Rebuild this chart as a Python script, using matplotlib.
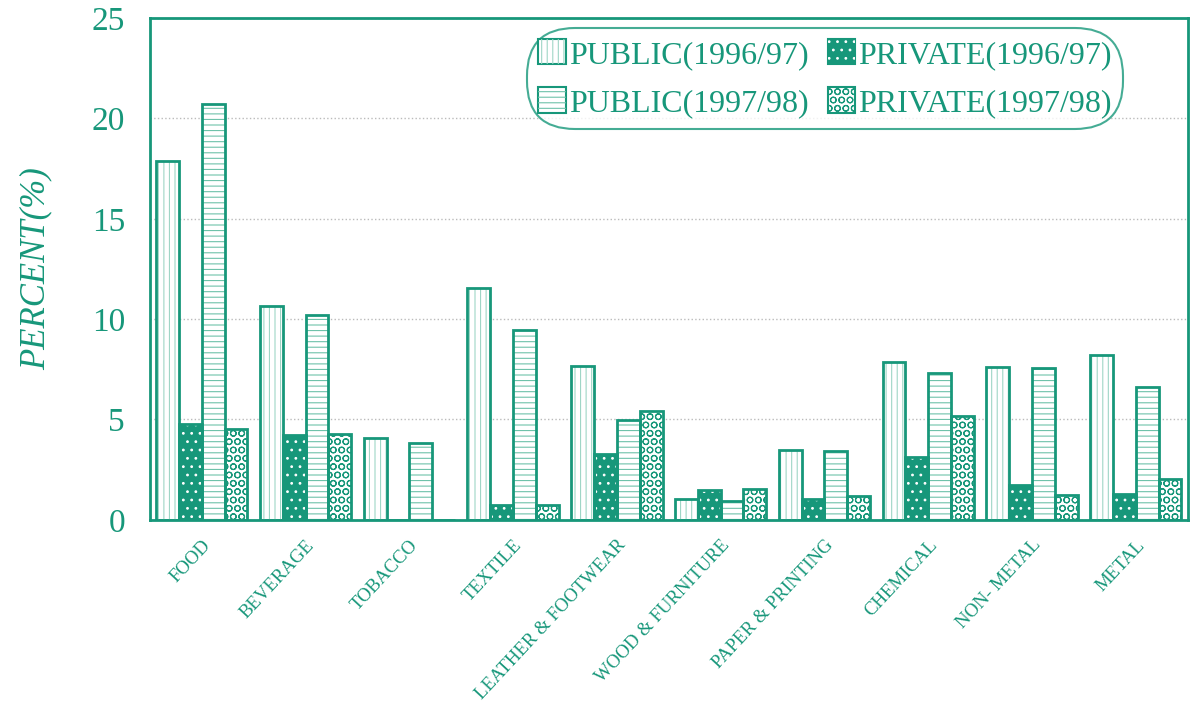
import matplotlib.pyplot as plt
import numpy as np
from matplotlib.patches import Patch
from matplotlib.legend_handler import HandlerTuple

# 数据
categories = ['FOOD', 'BEVERAGE', 'TOBACCO', 'TEXTILE', 'LEATHER & FOOTWEAR',
              'WOOD & FURNITURE', 'PAPER & PRINTING', 'CHEMICAL', 'NON- METAL', 'METAL']
public_9697 = [17.9, 10.65, 4.1, 11.55, 7.65, 1.05, 3.5, 7.85, 7.6, 8.2]
private_9697 = [4.75, 4.25, 0.0, 0.75, 3.3, 1.5, 1.05, 3.15, 1.75, 1.3]
public_9798 = [20.7, 10.2, 3.85, 9.45, 4.95, 0.95, 3.45, 7.3, 7.55, 6.6]
private_9798 = [4.55, 4.3, 0.0, 0.75, 5.4, 1.55, 1.2, 5.15, 1.25, 2.05]
labels = ['PUBLIC(1996/97)', 'PRIVATE(1996/97)', 'PUBLIC(1997/98)', 'PRIVATE(1997/98)']
y_ticks = [0, 5, 10, 15, 20, 25]

green = '#17977a'
plt.rcParams['font.family'] = ['Liberation Serif', 'DejaVu Serif']
plt.rcParams['hatch.linewidth'] = 0.8

fig = plt.figure(figsize=(11.9, 7.21), dpi=100)
ax = fig.add_axes([0.126, 0.279, 0.872, 0.696])

x = np.arange(len(categories))
w = 0.22
series = [public_9697, private_9697, public_9798, private_9798]
# (填充色, 纹理, 纹理颜色)
styles = [('white', '|||', '#9fd6c6'),
          (green, '..', 'white'),
          ('white', '---', '#6fc2aa'),
          ('white', 'OO', green)]

for i, (vals, (fc, hatch, hc)) in enumerate(zip(series, styles)):
    pos = x + (i - 1.5) * w
    ax.bar(pos, vals, w, color=fc, edgecolor='none', zorder=2)
    ax.bar(pos, vals, w, color='none', edgecolor=hc, hatch=hatch, linewidth=0, zorder=3)
    ax.bar(pos, vals, w, color='none', edgecolor=green, linewidth=2, zorder=4)

# 图例方块：底色 + 纹理叠加
leg_handles = []
for fc, hatch, hc in styles:
    base = Patch(facecolor=fc, edgecolor=green, linewidth=1.5)
    over = Patch(facecolor='none', edgecolor=hc, hatch=hatch, linewidth=0)
    leg_handles.append((base, over))

ax.set_xlim(-0.5, len(categories) - 0.5)
ax.set_ylim(0, 25)
ax.set_yticks(y_ticks)
ax.set_yticklabels([str(t) for t in y_ticks], fontsize=24, color=green)
ax.set_xticks(x)
ax.set_xticklabels(categories, rotation=47, ha='right', rotation_mode='anchor',
                   fontsize=13.5, color=green)
ax.tick_params(axis='y', length=0, pad=18)
ax.tick_params(axis='x', length=0, pad=12)

for s in ax.spines.values():
    s.set_color(green)
    s.set_linewidth(2)

ax.yaxis.grid(True, linestyle=':', color='#bbbbbb', linewidth=1, zorder=0)
ax.set_axisbelow(True)

ax.set_ylabel('PERCENT(%)', fontsize=25, style='italic', color=green, labelpad=28)

# 按行排列：matplotlib 按列填充，所以调整顺序
order = [0, 2, 1, 3]
leg = ax.legend([leg_handles[k] for k in order], [labels[k] for k in order],
                handler_map={tuple: HandlerTuple(ndivide=1, pad=0)},
                ncol=2, loc='upper right',
                bbox_to_anchor=(0.942, 0.99), frameon=True, fancybox=True,
                fontsize=23, handlelength=0.85, handleheight=0.85,
                handletextpad=0.1, columnspacing=0.6, labelspacing=0.55,
                borderpad=0.0)
leg.get_frame().set_edgecolor(green)
leg.get_frame().set_linewidth(1.5)
leg.get_frame().set_boxstyle('round,pad=0.35,rounding_size=1.5')
for t in leg.get_texts():
    t.set_color(green)

fig.savefig('out.png', dpi=100)
